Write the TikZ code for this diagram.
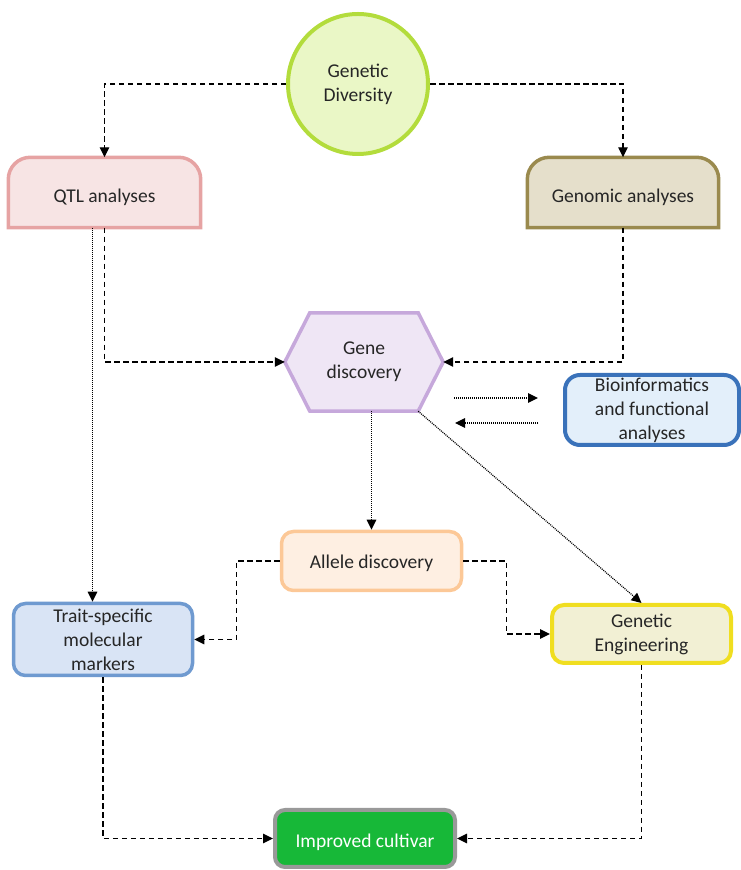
\documentclass[tikz,border=0pt]{standalone}
\usepackage{fontspec}
\setmainfont{Carlito}
\usetikzlibrary{arrows.meta,calc}
\pgfdeclarelayer{bg}
\pgfsetlayers{bg,main}

\definecolor{txt}{HTML}{262626}
\definecolor{gdivF}{HTML}{EAF7C6}
\definecolor{gdivB}{HTML}{B3DC3C}
\definecolor{qtlF}{HTML}{F7E4E4}
\definecolor{qtlB}{HTML}{E6A3A3}
\definecolor{genoF}{HTML}{E5DFCB}
\definecolor{genoB}{HTML}{9A8A4E}
\definecolor{geneF}{HTML}{EFE6F5}
\definecolor{geneB}{HTML}{C6A8DB}
\definecolor{bioF}{HTML}{E3EFFA}
\definecolor{bioB}{HTML}{3A72BA}
\definecolor{alleleF}{HTML}{FEEFE2}
\definecolor{alleleB}{HTML}{FCC897}
\definecolor{traitF}{HTML}{D9E4F5}
\definecolor{traitB}{HTML}{6F9AD0}
\definecolor{geF}{HTML}{F2F0D4}
\definecolor{geB}{HTML}{F0DE20}
\definecolor{cultF}{HTML}{17B838}
\definecolor{cultB}{HTML}{999999}

\begin{document}
\begin{tikzpicture}[x=1pt,y=1pt,
  font=\fontsize{19.5}{24}\selectfont, text=txt,
  box/.style={rectangle, rounded corners=12pt, line width=3.5pt, align=center, inner sep=0pt},
  frame/.style={rectangle, minimum width=#1, inner sep=0pt, align=center},
  tip/.style={-{Triangle[length=10pt,width=9.5pt]}},
  dasharrow/.style={tip, line width=1.3pt, dash pattern=on 5.5pt off 3.5pt},
  dotarrow/.style={tip, line width=1.2pt, dash pattern=on 1pt off 1pt}]
\useasboundingbox (0,0) rectangle (740,870);

% source circle
\node[circle, minimum size=140pt, inner sep=0pt, draw=gdivB, fill=gdivF,
      line width=4pt, align=center] (gdiv) at (358,786) {Genetic\\Diversity};

% analysis boxes with rounded tops and square bottoms
\node[frame=192pt, minimum height=70pt, text height=20pt, text depth=0pt]
      (qtl) at (104.5,677.5) {QTL analyses};
\node[frame=191pt, minimum height=70pt, text height=20pt, text depth=0pt]
      (geno) at (623,677.5) {Genomic analyses};
\begin{pgfonlayer}{bg}
  \draw[line width=3.5pt, draw=qtlB, fill=qtlF]
    (qtl.south west) -- ([yshift=-22pt]qtl.north west)
    arc[start angle=180, end angle=90, radius=22pt]
    -- ([xshift=-22pt]qtl.north east)
    arc[start angle=90, end angle=0, radius=22pt]
    -- (qtl.south east) -- cycle;
  \draw[line width=3.5pt, draw=genoB, fill=genoF]
    (geno.south west) -- ([yshift=-22pt]geno.north west)
    arc[start angle=180, end angle=90, radius=22pt]
    -- ([xshift=-22pt]geno.north east)
    arc[start angle=90, end angle=0, radius=22pt]
    -- (geno.south east) -- cycle;
\end{pgfonlayer}

% hexagon
\node[frame=158pt, minimum height=98pt] (gene) at (364,508) {Gene\\discovery};
\coordinate (genebr) at ([xshift=-25pt]gene.south east);
\begin{pgfonlayer}{bg}
  \draw[line width=3.5pt, draw=geneB, fill=geneF]
    (gene.west) -- ([xshift=25pt]gene.north west) -- ([xshift=-25pt]gene.north east)
    -- (gene.east) -- (genebr) -- ([xshift=25pt]gene.south west) -- cycle;
\end{pgfonlayer}

% other boxes
\node[box, rounded corners=15pt, draw=bioB, fill=bioF, line width=4pt,
      minimum width=174pt, minimum height=70pt] (bio) at (652,460)
      {Bioinformatics\\and functional\\analyses};
\node[box, draw=alleleB, fill=alleleF, minimum width=180pt, minimum height=59pt,
      text height=15pt, text depth=0pt] (allele) at (371.5,309) {Allele discovery};
\node[box, draw=traitB, fill=traitF, minimum width=179pt, minimum height=72pt]
      (trait) at (103,230.5) {Trait-specific\\molecular\\markers};
\node[box, draw=geB, fill=geF, line width=4pt, minimum width=179pt, minimum height=58pt]
      (ge) at (641.5,236) {Genetic\\Engineering};
\node[box, rounded corners=10pt, draw=cultB, fill=cultF, line width=4pt, text=white,
      minimum width=180pt, minimum height=57pt, text height=17pt, text depth=0pt]
      (cult) at (365,31.5) {Improved cultivar};

% free ends of the exchange arrows
\coordinate (bioOutA) at (454,472);
\coordinate (bioInA)  at (538,472);
\coordinate (bioOutB) at (538,447);
\coordinate (bioInB)  at (455,447);

% connectors
\draw[dasharrow] (gdiv.west) -| (qtl.north);
\draw[dasharrow] (gdiv.east) -| (geno.north);
\draw[dasharrow] (qtl.south) |- (gene.west);
\draw[dasharrow] (geno.south) |- (gene.east);
\draw[dotarrow] ([xshift=-12pt]qtl.south) -- ([xshift=-12pt]qtl.south |- trait.north);
\draw[dotarrow] (bioOutA) -- (bioInA);
\draw[dotarrow] (bioOutB) -- (bioInB);
\draw[dotarrow] (allele.north |- gene.south) -- (allele.north);
\draw[dotarrow] (genebr) -- (ge.north);
\draw[dasharrow] (allele.west) -- ++(-43,0) |- (trait.east);
\draw[dasharrow] (allele.east) -- ++(43,0) |- (ge.west);
\draw[dasharrow] (trait.south) |- (cult.west);
\draw[dasharrow] (ge.south) |- (cult.east);
\end{tikzpicture}
\end{document}
